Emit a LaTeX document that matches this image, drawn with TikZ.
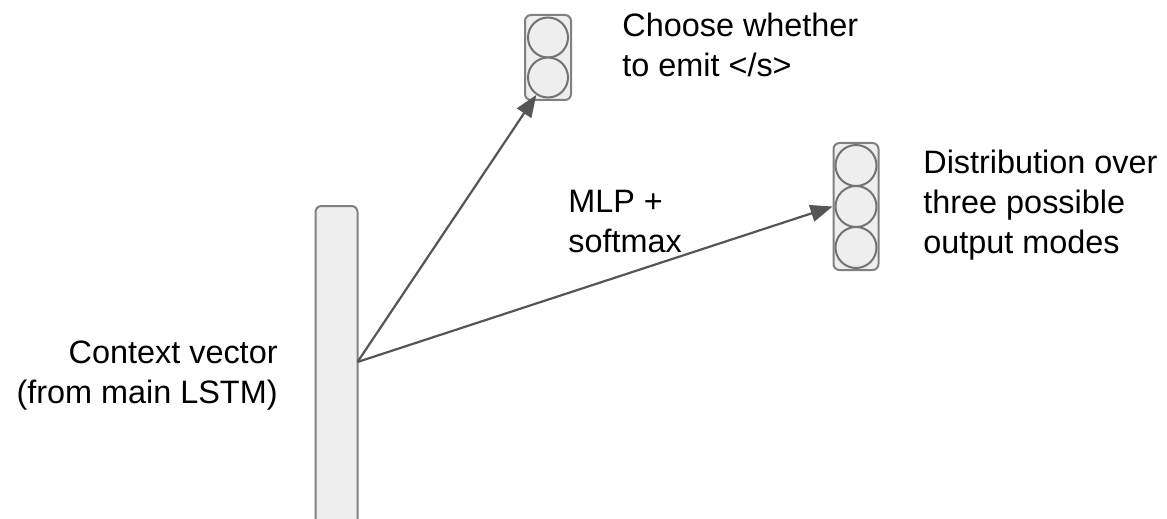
\documentclass[tikz,border=0pt]{standalone}
\usepackage{fontspec}
\setmainfont{Liberation Sans}
\usepackage{tikz}
\usetikzlibrary{positioning,arrows.meta,calc}
\usepackage{xcolor}
\definecolor{cellfill}{HTML}{EEEEEE}
\definecolor{celledge}{HTML}{808080}
\definecolor{arrowgray}{HTML}{555555}

\begin{document}
\begin{tikzpicture}[x=0.5pt,y=-0.5pt,
  cellbox/.style={draw=celledge,line width=1pt,fill=cellfill,rounded corners=3pt,inner sep=0pt},
  unit/.style={circle,draw=celledge!90!black,line width=1pt,fill=cellfill,inner sep=0pt,minimum size=20pt},
  arrowline/.style={draw=arrowgray,line width=1.1pt,-{Triangle[length=11pt,width=8.5pt]}},
  label/.style={inner sep=0pt,font=\fontsize{16.2}{20}\selectfont}]
\useasboundingbox (0,0) rectangle (1167,519);

%====================================================
% CONTEXT VECTOR (bar runs off the bottom edge)
%====================================================
\begin{scope}
\clip (0,0) rectangle (1167,519);
\node[cellbox,minimum width=21pt,minimum height=162pt] (ctx) at (336.5,368) {};
\end{scope}
\coordinate (ctxout) at (357.5,362);
\node[label,anchor=north east,align=right] (ctxtext) at (278,340) {Context vector\\(from main LSTM)};

%====================================================
% STOP UNIT (two cells)
%====================================================
\node[cellbox,minimum width=23pt,minimum height=42.5pt] (stop) at (548,57.5) {};
\node[unit] (stopa) at (548,37.5) {};
\node[unit] (stopb) at (548,77.5) {};
\node[label,anchor=north west,align=left] (stoptext) at (622,13) {Choose whether\\to emit </s>};

%====================================================
% MODE UNIT (three cells)
%====================================================
\node[cellbox,minimum width=22.5pt,minimum height=63.5pt] (modes) at (856,206.5) {};
\node[unit,minimum size=20.5pt] (modea) at (856,165.5) {};
\node[unit,minimum size=20.5pt] (modeb) at (856,206.5) {};
\node[unit,minimum size=20.5pt] (modec) at (856,247.5) {};
\node[label,anchor=north west,align=left] (modetext) at (923,150) {Distribution over\\three possible\\output modes};

%====================================================
% CONNECTORS
%====================================================
\draw[arrowline] (ctxout) -- (stopb);
\draw[arrowline] (ctxout) -- (modes.west);
\node[label,anchor=north west,align=left] (mlp) at (568,190) {MLP +\\softmax};
\end{tikzpicture}
\end{document}
